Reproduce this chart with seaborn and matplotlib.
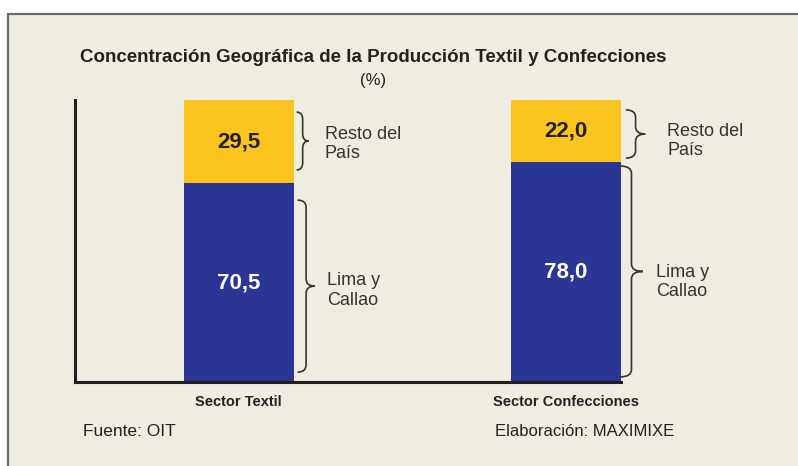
import numpy as np
import pandas as pd
import matplotlib
matplotlib.use("Agg")
import matplotlib.pyplot as plt
from matplotlib.path import Path
from matplotlib.patches import PathPatch, Rectangle
import seaborn as sns

# datos
sectores = ["Sector Textil", "Sector Confecciones"]
lima_callao = [70.5, 78.0]
resto_pais = [29.5, 22.0]
etiquetas = ["Lima y\nCallao", "Resto del\nPaís"]

df = pd.DataFrame({"sector": sectores, "lima": lima_callao, "resto": resto_pais})
df["total"] = df["lima"] + df["resto"]

amarillo = "#FCC41E"
azul = "#2B3594"
fondo = "#EFECE2"
texto = "#333333"

sns.set_style("white")
plt.rcParams["font.family"] = ["Liberation Sans", "DejaVu Sans"]

fig = plt.figure(figsize=(7.98, 4.66), dpi=100)
fig.patch.set_facecolor("white")
fig.patches.append(Rectangle((8 / 798, -0.05), 1.0, 1 - 14 / 466 + 0.05,
                             transform=fig.transFigure, facecolor=fondo,
                             edgecolor="#6b6b6b", linewidth=1.6, zorder=-10))

ax = fig.add_axes([75 / 798, 1 - 382 / 466, 546 / 798, 282 / 466])
ax.set_facecolor("none")
ax.set_zorder(1)

ancho = 0.336
sns.barplot(data=df, x="sector", y="total", color=amarillo, width=ancho,
            saturation=1, errorbar=None, ax=ax, linewidth=0)
sns.barplot(data=df, x="sector", y="lima", color=azul, width=ancho,
            saturation=1, errorbar=None, ax=ax, linewidth=0)

ax.set_xlim(-0.5, 1 + ancho / 2)
ax.set_ylim(0, 100)
ax.set_yticks([])
ax.set_xlabel("")
ax.set_ylabel("")
for s in ["top", "right"]:
    ax.spines[s].set_visible(False)
for s in ["left", "bottom"]:
    ax.spines[s].set_linewidth(2.2)
    ax.spines[s].set_color("#231f20")
ax.tick_params(axis="x", length=0, pad=9)
for lab in ax.get_xticklabels():
    lab.set_fontweight("bold")
    lab.set_fontsize(10.5)
    lab.set_color("#222222")


def llave(ax, x0, w, y_top, y_bot, r=2.6):
    xm = x0 + w / 2
    xt = x0 + w
    ym = (y_top + y_bot) / 2
    verts = [(x0, y_top), (xm, y_top), (xm, y_top - r),
             (xm, ym + r), (xm, ym), (xt, ym),
             (xm, ym), (xm, ym - r),
             (xm, y_bot + r), (xm, y_bot), (x0, y_bot)]
    codes = [Path.MOVETO, Path.CURVE3, Path.CURVE3,
             Path.LINETO, Path.CURVE3, Path.CURVE3,
             Path.CURVE3, Path.CURVE3,
             Path.LINETO, Path.CURVE3, Path.CURVE3]
    ax.add_patch(PathPatch(Path(verts, codes), facecolor="none",
                           edgecolor="#333333", linewidth=1.2, clip_on=False))
    return xt, ym


# ajustes de las llaves por barra: (inicio x, ancho, margen sup, margen inf) para lima y resto
llaves = [
    [(0.180, 0.052, 6.0, 3.5), (0.177, 0.037, 4.3, 4.7)],
    [(0.165, 0.070, 1.4, 1.8), (0.183, 0.059, 3.5, 1.4)],
]
sep_texto = [[0.037, 0.049], [0.040, 0.067]]
dy_texto = [[-1.5, -1.0], [-3.8, -2.5]]

for i in range(len(sectores)):
    lima = lima_callao[i]
    resto = resto_pais[i]
    tramos = [(lima, 0.0), (lima + resto, lima)]
    for j, (top, bot) in enumerate(tramos):
        x0, w, mt, mb = llaves[i][j]
        xt, ym = llave(ax, i + x0, w, top - mt, bot + mb)
        ax.text(xt + sep_texto[i][j], ym + dy_texto[i][j], etiquetas[j],
                ha="left", va="center", fontsize=13, color=texto,
                linespacing=1.2, clip_on=False)
    ax.text(i, lima / 2, f"{lima:.1f}".replace(".", ","), ha="center",
            va="center", fontsize=16, fontweight="bold", color="white")
    ax.text(i, lima + resto / 2, f"{resto:.1f}".replace(".", ","),
            ha="center", va="center", fontsize=16, fontweight="bold",
            color="#222222")

fig.text(373 / 798, 1 - 58 / 466,
         "Concentración Geográfica de la Producción Textil y Confecciones",
         ha="center", va="center", fontsize=13.5, fontweight="bold", color="#222222")
fig.text(373 / 798, 1 - 80 / 466, "(%)", ha="center", va="center",
         fontsize=12, color="#222222")
fig.text(83 / 798, 1 - 431 / 466, "Fuente: OIT", ha="left", va="center",
         fontsize=12.5, color="#222222")
fig.text(495 / 798, 1 - 431 / 466, "Elaboración: MAXIMIXE", ha="left",
         va="center", fontsize=12, color="#222222")

fig.savefig("out.png", dpi=100)
